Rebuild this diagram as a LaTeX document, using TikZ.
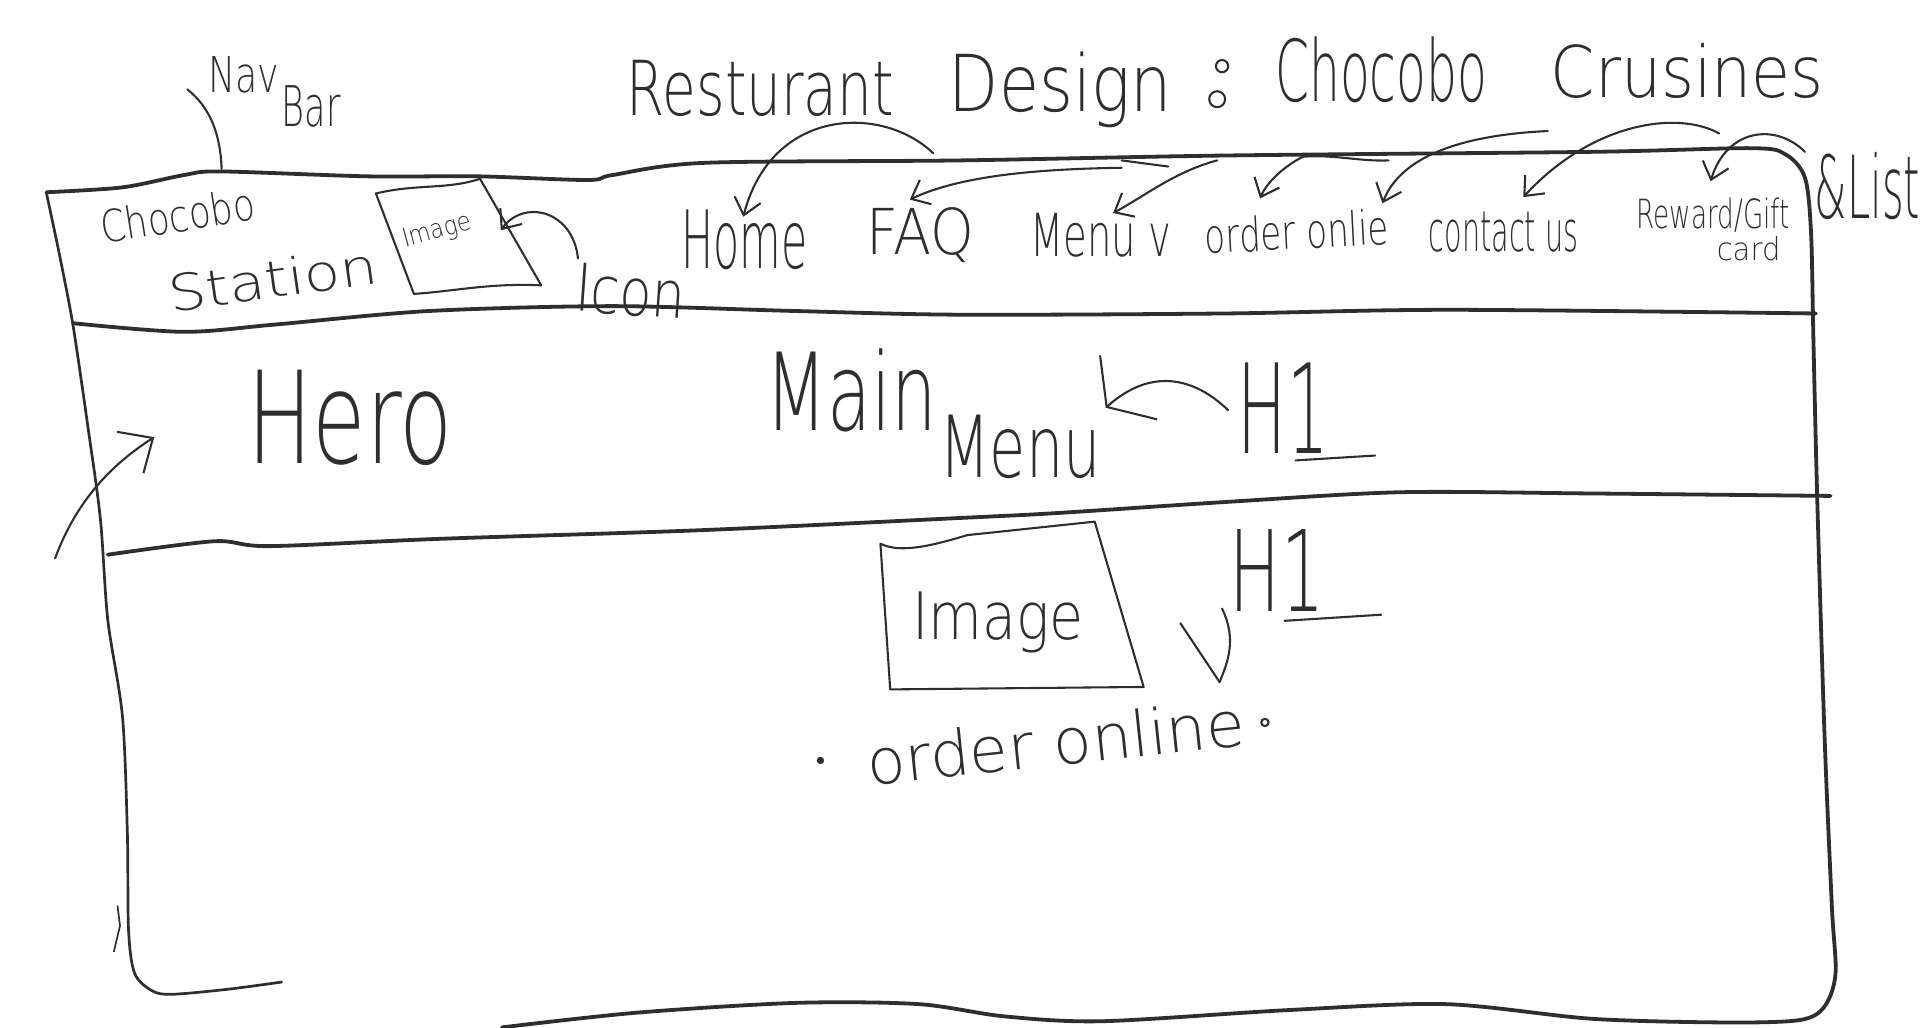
\documentclass[tikz,border=0pt]{standalone}
\usepackage{fontspec}
\usepackage{graphicx}
\usetikzlibrary{arrows.meta}
\IfFontExistsTF{DejaVu Sans ExtraLight}
  {\newfontfamily\hand{DejaVu Sans ExtraLight}}
  {\newfontfamily\hand{Fira Sans}}
\definecolor{ink}{HTML}{2E2E2E}
% word of fixed width and total height, in points
\newcommand\hw[3]{\resizebox*{#1pt}{#2pt}{\hand #3}}
\tikzset{
  frame/.style={draw=ink, line width=3.1pt, line cap=round, line join=round},
  pen/.style={draw=ink, line width=1.7pt, line cap=round, line join=round},
  arr/.style={pen, -{Straight Barb[length=13pt,width=22pt,line width=1.7pt]}},
  word/.style={inner sep=0pt, text=ink},
}
\begin{document}
\begin{tikzpicture}[x=1pt,y=-1pt]
\fill[white] (0,0) rectangle (1568,839);
\useasboundingbox (0,0) rectangle (1568,839);

% ---- title ----
\node[word] (t1) at (621,72) {\hw{218}{46}{Resturant}};
\node[word] (t2) at (866,73) {\hw{182}{62}{Design}};
\draw[pen] (998,54) circle[radius=5];
\draw[pen] (994,81) circle[radius=6.5];
\node[word] (t3) at (1128,57) {\hw{173}{54}{Chocobo}};
\node[word] (t4) at (1378,58) {\hw{223}{45}{Crusines}};

% ---- nav bar label ----
\node[word] (nav) at (199,61) {\hw{58}{30}{Nav}};
\node[word] (bar) at (254,87) {\hw{48}{34}{Bar}};
\draw[pen] (153,73) .. controls (172,88) and (180,110) .. (181,138);

% ---- page frame ----
\draw[frame] plot[smooth,tension=0.5] coordinates {(38,157) (100,153) (150,143) (180,140) (300,144) (390,144) (480,147) (500,143) (575,133) (784,131) (1000,127) (1300,124) (1430,121) (1458,126) (1474,145) (1479,190) (1481,280) (1484,405) (1490,600) (1496,740) (1499,795) (1490,822) (1470,833) (1410,835) (1300,832) (1180,820) (1050,825) (900,834) (820,830) (750,820) (650,819) (520,827) (410,839)};
\draw[frame, line width=2.2pt] plot[smooth,tension=0.5] coordinates {(38,158) (50,215) (60,268) (72,350) (82,424) (88,506) (100,585) (104,680) (105,760) (110,795) (124,809) (140,812) (185,808) (230,802)};
\draw[pen, line width=1.4pt] (96,740) -- (98,756) -- (93,777);
% nav bar bottom edge
\draw[frame] plot[smooth,tension=0.5] coordinates {(60,264) (150,271) (225,265) (350,254) (500,250) (650,254) (784,257) (1000,256) (1184,253) (1483,256)};
% hero bottom edge
\draw[frame] plot[smooth,tension=0.5] coordinates {(88,453) (175,442) (220,446) (360,440) (572,433) (784,423) (863,419) (1000,410) (1143,402) (1300,403) (1495,405)};

% ---- nav bar content ----
\node[word, rotate=9] (brand1) at (145,176) {\hw{127}{28}{Chocobo}};
\node[word, rotate=8] (brand2) at (223,228) {\hw{172}{32}{Station}};
\draw[pen] (307,158) .. controls (340,150) and (365,155) .. (392,146) -- (442,233)
  .. controls (400,231) and (370,238) .. (338,240) -- cycle;
\node[word, rotate=15] (iconimg) at (357,189) {\hw{57}{20}{Image}};
\node[word, rotate=-4] (icon) at (515,238) {\hw{90}{40}{Icon}};
\draw[arr] (472,211) .. controls (468,172) and (428,162) .. (409,188);

\node[word] (home) at (608,196) {\hw{103}{49}{Home}};
\node[word] (faq) at (752,192) {\hw{88}{45}{FAQ}};
\node[word] (menu) at (899,192) {\hw{115}{36}{Menu v}};
\node[word, rotate=3] (order) at (1059,189) {\hw{150}{30}{order onlie}};
\node[word] (contact) at (1228,190) {\hw{122}{33}{contact us}};
\node[word] (reward) at (1399,176) {\hw{125}{28}{Reward/Gift}};
\node[word] (card) at (1428,203) {\hw{52}{20}{card}};
\node[word] (list) at (1525,152) {\hw{86}{55}{\&List}};

% arrows onto the nav items
\draw[arr] (762,125) .. controls (720,85) and (630,88) .. (607,177);
\draw[arr] (916,137) .. controls (850,138) and (785,143) .. (743,163);
\draw[pen] (916,131) -- (954,136);
\draw[arr] (994,131) .. controls (960,140) and (935,160) .. (909,174);
\draw[arr] (1064,128) .. controls (1050,135) and (1035,148) .. (1029,162);
\draw[pen] (1064,128) .. controls (1090,126) and (1110,132) .. (1134,131);
\draw[arr] (1264,107) .. controls (1200,110) and (1145,125) .. (1129,166);
\draw[arr] (1404,109) .. controls (1370,90) and (1300,100) .. (1244,161);
\draw[arr] (1474,124) .. controls (1450,100) and (1410,105) .. (1397,148);

% ---- hero ----
\node[word] (hero) at (286,341) {\hw{168}{78}{Hero}};
\draw[pen, -{Straight Barb[length=22pt,width=40pt,line width=1.7pt]}] (45,456) .. controls (62,410) and (90,380) .. (126,357);
\node[word] (main1) at (695,319) {\hw{140}{68}{Main}};
\node[word] (main2) at (833,365) {\hw{132}{52}{Menu}};
\node[word] (h1a) at (1048,333) {\hw{74}{74}{H1}};
\draw[pen] (1058,376) -- (1123,372);
\draw[pen, -{Straight Barb[length=24pt,width=70pt,line width=1.7pt]}] (1003,335) .. controls (975,308) and (940,300) .. (903,333);

% ---- content section ----
\draw[pen] (719,444) .. controls (735,452) and (760,446) .. (790,437) -- (894,426) -- (934,561) -- (727,563) -- cycle;
\node[word] (img) at (815,508) {\hw{140}{50}{Image}};
\node[word] (h1b) at (1043,466) {\hw{77}{67}{H1}};
\draw[pen] (1049,507) -- (1128,502);
\draw[pen] (964,509) -- (996,557);
\draw[pen] (998,497) .. controls (1010,522) and (1003,540) .. (996,557);
\node[word, rotate=6] (orderonline) at (862,606) {\hw{310}{40}{order online}};
\fill[ink] (670,621) circle[radius=3];
\draw[pen] (1033,590) circle[radius=3];
\end{tikzpicture}
\end{document}
